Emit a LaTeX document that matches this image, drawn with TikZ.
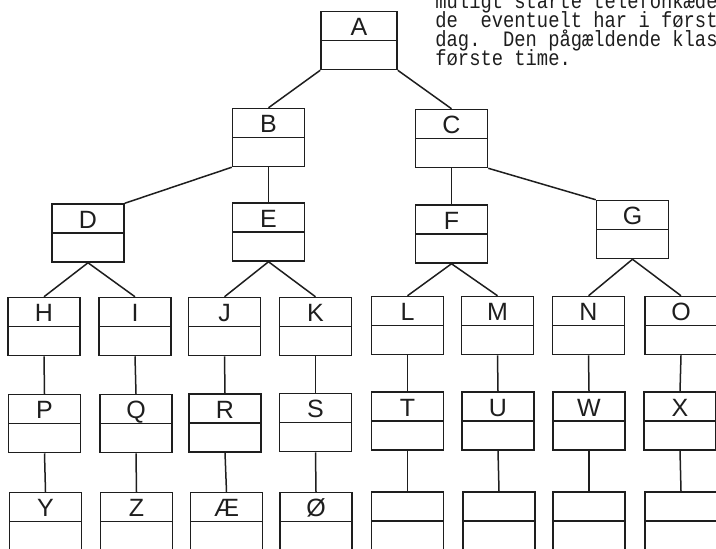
\documentclass[tikz,border=0pt]{standalone}
\usepackage{fontspec}
\usepackage{xcolor}
\usepackage{tikz}
\usetikzlibrary{positioning}
\newfontfamily\letterfont{Liberation Sans}
\newfontfamily\typefont{Liberation Mono}[FakeStretch=0.855]
\definecolor{ink}{HTML}{1E1E1E}
\begin{document}
\begin{tikzpicture}[x=0.5pt,y=-0.5pt,
  cell/.style={draw=ink,line width=0.75pt,minimum width=36pt,inner xsep=0pt,inner ysep=0pt,
    text height=12pt,text depth=17pt,text=ink,font={\letterfont\fontsize{12.5}{12.5}\selectfont},
    path picture={\draw[ink,line width=0.75pt] (path picture bounding box.west) -- (path picture bounding box.east);}},
  link/.style={draw=ink,line width=0.75pt},
  typeline/.style={anchor=base west,inner sep=0pt,text=ink,font={\typefont\fontsize{11}{11}\selectfont}}]
\useasboundingbox (0,0) rectangle (716,548);
\clip (0,0) rectangle (716,548);
% typed text, top right
\node[typeline] (txta) at (435,8) {muligt starte telefonkæde};
\node[typeline] (txtb) at (435,27) {de\ \ eventuelt har i først};
\node[typeline] (txtc) at (435,46) {dag.\ \ Den pågældende klas};
\node[typeline] (txtd) at (435,65) {første time.};
% boxes
\node[cell,minimum width=38pt] (nA) at (359,40.5) {A};
\node[cell] (nB) at (268.5,137.5) {B};
\node[cell] (nC) at (451.5,138.5) {C};
\node[cell] (nD) at (88,233) {D};
\node[cell] (nE) at (268.5,232) {E};
\node[cell] (nF) at (451.5,234) {F};
\node[cell] (nG) at (632.5,229.5) {G};
\node[cell] (nH) at (44,326.5) {H};
\node[cell] (nI) at (135,326.5) {I};
\node[cell] (nJ) at (224.5,326.5) {J};
\node[cell] (nK) at (315.5,326.5) {K};
\node[cell] (nL) at (407.5,325.5) {L};
\node[cell] (nM) at (497.5,325.5) {M};
\node[cell] (nN) at (588.5,325.5) {N};
\node[cell] (nO) at (681,325.5) {O};
\node[cell] (nP) at (44.5,423.5) {P};
\node[cell] (nQ) at (136,423.5) {Q};
\node[cell] (nR) at (225,423) {R};
\node[cell] (nS) at (315.5,422.5) {S};
\node[cell] (nT) at (407.5,421) {T};
\node[cell] (nU) at (498,421) {U};
\node[cell] (nW) at (589,421) {W};
\node[cell] (nX) at (680,421) {X};
\node[cell] (nY) at (45.5,521.5) {Y};
\node[cell] (nZ) at (136.5,521.5) {Z};
\node[cell] (nAE) at (226.5,521.5) {Æ};
\node[cell] (nOE) at (316,521.5) {Ø};
\node[cell] (nb1) at (407.5,521) {};
\node[cell] (nb2) at (499,521) {};
\node[cell] (nb3) at (589,521) {};
\node[cell] (nb4) at (681,521) {};
% connectors
\draw[link] (nA.south west) -- (nB.north);
\draw[link] (nA.south east) -- (nC.north);
\draw[link] (nB.south west) -- (nD.north east);
\draw[link] (nB.south) -- (nE.north);
\draw[link] (nC.south) -- (nF.north);
\draw[link] (nC.south east) -- (nG.north west);
\draw[link] (nD.south) -- (nH.north);
\draw[link] (nD.south) -- (nI.north);
\draw[link] (nE.south) -- (nJ.north);
\draw[link] (nE.south) -- (nK.north);
\draw[link] (nF.south) -- (nL.north);
\draw[link] (nF.south) -- (nM.north);
\draw[link] (nG.south) -- (nN.north);
\draw[link] (nG.south) -- (nO.north);
\draw[link] (nH.south) -- (nP.north);
\draw[link] (nI.south) -- (nQ.north);
\draw[link] (nJ.south) -- (nR.north);
\draw[link] (nK.south) -- (nS.north);
\draw[link] (nL.south) -- (nT.north);
\draw[link] (nM.south) -- (nU.north);
\draw[link] (nN.south) -- (nW.north);
\draw[link] (nO.south) -- (nX.north);
\draw[link] (nP.south) -- (nY.north);
\draw[link] (nQ.south) -- (nZ.north);
\draw[link] (nR.south) -- (nAE.north);
\draw[link] (nS.south) -- (nOE.north);
\draw[link] (nT.south) -- (nb1.north);
\draw[link] (nU.south) -- (nb2.north);
\draw[link] (nW.south) -- (nb3.north);
\draw[link] (nX.south) -- (nb4.north);
\end{tikzpicture}
\end{document}
